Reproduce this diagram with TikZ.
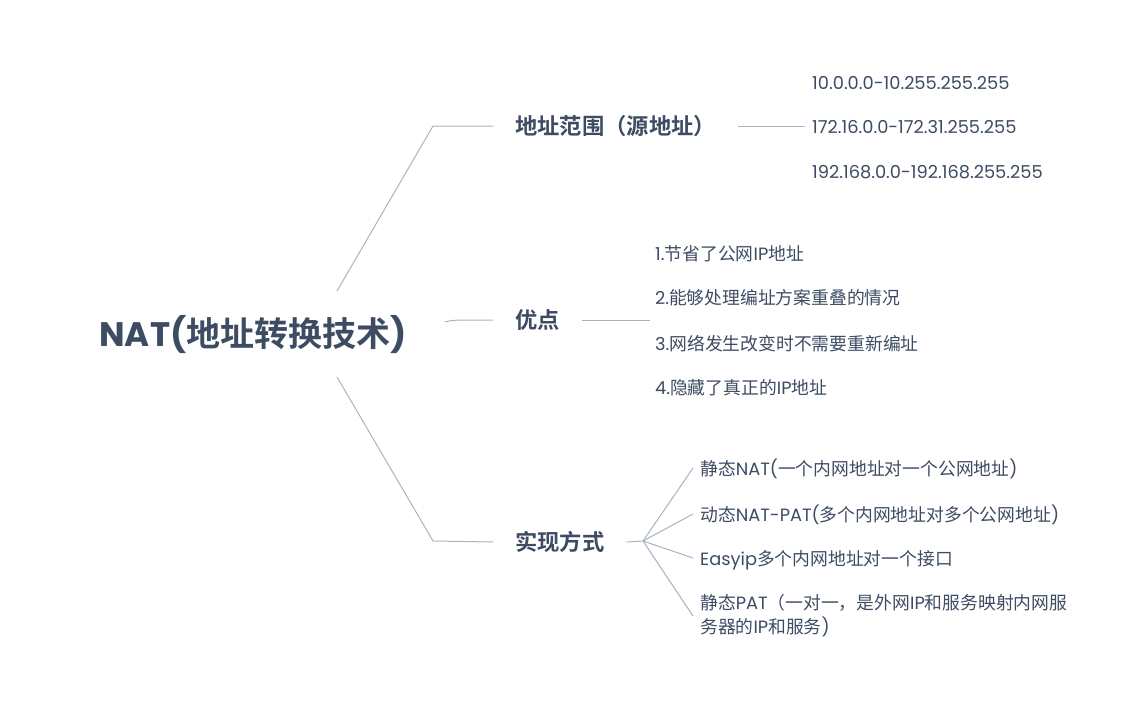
\documentclass[tikz,border=0pt]{standalone}
\usepackage{fontspec}
\setmainfont{Poppins}
\newfontfamily\cjkfont{Noto Sans CJK SC}[BoldFont={Noto Sans CJK SC Bold}]
\newcommand{\zh}[1]{{\cjkfont #1}}
\usetikzlibrary{positioning}
\definecolor{mapText}{HTML}{3D4B63}
\definecolor{mapLine}{HTML}{A7B4C4}
\tikzstyle{root_node} = [font=\fontsize{34}{40}\selectfont\bfseries, text=mapText, inner sep=0pt]
\tikzstyle{branch_node} = [anchor=west, font=\fontsize{22.3}{28}\selectfont\bfseries, text=mapText, inner xsep=22pt, inner ysep=0pt, text height=16pt, text depth=0pt]
\tikzstyle{leaf_node} = [anchor=west, font=\fontsize{17.8}{24}\selectfont, text=mapText, inner xsep=7pt, inner ysep=0pt, text height=14pt, text depth=0pt]
\tikzstyle{map_line} = [mapLine, line width=1pt]

\begin{document}
\begin{tikzpicture}[x=1pt, y=-1pt]
\useasboundingbox (0,0) rectangle (1135,707);

\node (root) [root_node] at (253,335) {NAT(\zh{地址转换技术})};

\node (addr) [branch_node] at (493,126) {\zh{地址范围（源地址）}};
\node (adv) [branch_node] at (493,320) {\zh{优点}};
\node (impl) [branch_node] at (493,542) {\zh{实现方式}};

% address ranges
\node (ip1) [leaf_node] at (805,82) {10.0.0.0-10.255.255.255};
\node (ip2) [leaf_node] at (805,126) {172.16.0.0-172.31.255.255};
\node (ip3) [leaf_node] at (805,171) {192.168.0.0-192.168.255.255};

% advantages
\node (a1) [leaf_node] at (648,253) {1.\zh{节省了公网}IP\zh{地址}};
\node (a2) [leaf_node] at (648,297) {2.\zh{能够处理编址方案重叠的情况}};
\node (a3) [leaf_node] at (648,343) {3.\zh{网络发生改变时不需要重新编址}};
\node (a4) [leaf_node] at (648,387) {4.\zh{隐藏了真正的}IP\zh{地址}};

% ways
\node (w1) [leaf_node] at (693,468) {\zh{静态}NAT(\zh{一个内网地址对一个公网地址})};
\node (w2) [leaf_node] at (693,514) {\zh{动态}NAT-PAT(\zh{多个内网地址对多个公网地址})};
\node (w3) [leaf_node] at (693,558) {Easyip\zh{多个内网地址对一个接口}};
\node (w4) [leaf_node, text height={}, text depth={}, align=left] at (693,616) {\zh{静态}PAT\zh{（一对一，是外网}IP\zh{和服务映射内网服}\\\zh{务器的}IP\zh{和服务})};

\coordinate (root_up) at (337,291);
\coordinate (root_mid) at (445,322);
\coordinate (root_down) at (337,377);
\coordinate (addr_knee) at (433,126);
\coordinate (impl_knee) at (433,541);
\coordinate (adv_end) at (650,320);
\coordinate (impl_fork) at (643,541);

\draw [map_line] (root_up) -- (addr_knee) -- (addr.west);
\draw [map_line] (root_mid) .. controls (452,320) .. (adv.west);
\draw [map_line] (root_down) -- (impl_knee) -- (impl.west);
\draw [map_line] (addr.east) -- (ip2.west);
\draw [map_line] (adv.east) -- (adv_end);
\draw [map_line] (impl.east) -- (impl_fork);
\foreach \w in {w1,w2,w3,w4}
    \draw [map_line] (impl_fork) -- (\w.west);
\end{tikzpicture}
\end{document}
